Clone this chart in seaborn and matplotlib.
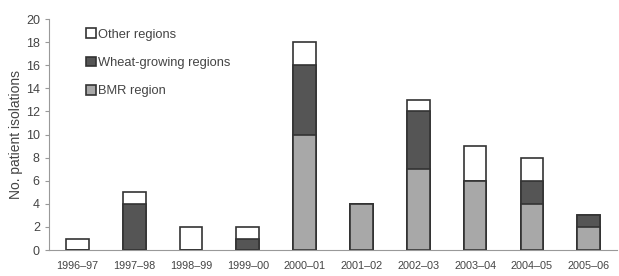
import matplotlib
matplotlib.use("Agg")
import matplotlib.pyplot as plt
import numpy as np
import pandas as pd
import seaborn as sns

# === 数据 ===
seasons = ["1996–97", "1997–98", "1998–99", "1999–00", "2000–01",
           "2001–02", "2002–03", "2003–04", "2004–05", "2005–06"]
bmr = [0, 0, 0, 0, 10, 4, 7, 6, 4, 2]
wheat = [0, 4, 0, 1, 6, 0, 5, 0, 2, 1]
other = [1, 1, 2, 1, 2, 0, 1, 3, 2, 0]

df = pd.DataFrame({"season": seasons, "bmr": bmr, "wheat": wheat, "other": other})
df["bmr_wheat"] = df["bmr"] + df["wheat"]
df["total"] = df["bmr_wheat"] + df["other"]

sns.set_style("white")
plt.rcParams["font.family"] = ["Liberation Sans", "DejaVu Sans"]

fig = plt.figure(figsize=(6.19, 2.76), dpi=100)
ax = fig.add_axes([0.079, 0.094, 0.918, 0.837])

edge = "#333333"
# 叠加画法：先画总高度，再逐层覆盖
sns.barplot(data=df, x="season", y="total", color="white", edgecolor=edge,
            linewidth=1.2, width=0.4, saturation=1, ax=ax, label="Other regions")
sns.barplot(data=df, x="season", y="bmr_wheat", color="#555555", edgecolor=edge,
            linewidth=1.2, width=0.4, saturation=1, ax=ax, label="Wheat-growing regions")
sns.barplot(data=df, x="season", y="bmr", color="#a8a8a8", edgecolor=edge,
            linewidth=1.2, width=0.4, saturation=1, ax=ax, label="BMR region")

ax.set_ylim(0, 20)
ax.set_xlim(-0.5, 9.5)
ax.set_yticks(np.arange(0, 21, 2))
ax.set_xlabel("")
ax.set_ylabel("No. patient isolations", fontsize=10, color="#444444", labelpad=2)
ax.tick_params(axis="x", labelsize=7.8, colors="#444444", length=0, pad=8)
ax.tick_params(axis="y", labelsize=9, colors="#444444", length=3, left=True,
               color="#999999")

sns.despine(ax=ax)
for s in ["left", "bottom"]:
    ax.spines[s].set_color("#999999")
    ax.spines[s].set_linewidth(0.8)

ax.legend(loc="upper left", bbox_to_anchor=(0.045, 1.01), frameon=False,
          fontsize=9.3, handlelength=0.75, handleheight=0.75, handletextpad=0.2,
          labelspacing=1.25, labelcolor="#444444")

fig.savefig("out.png", dpi=100)
